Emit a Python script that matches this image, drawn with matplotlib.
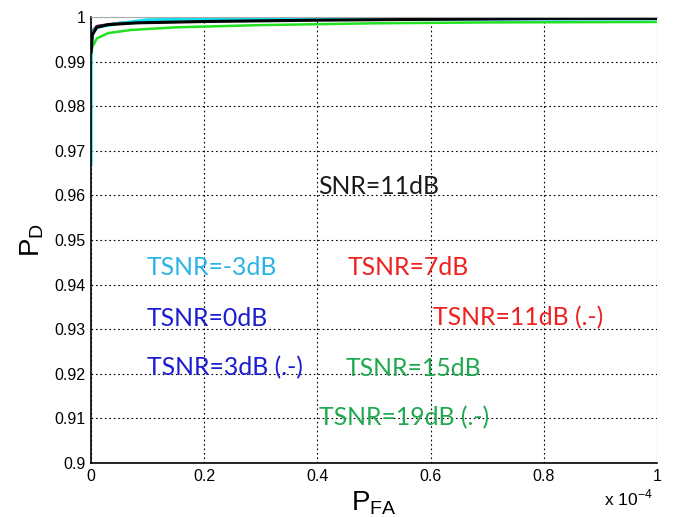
import matplotlib
matplotlib.use("Agg")
import matplotlib.pyplot as plt

# curves, x in units of 1e-4
x_green = [0, 0.002, 0.01, 0.03, 0.07, 0.15, 0.3, 0.5, 0.7, 1.0]
y_green = [0.9915, 0.9932, 0.9952, 0.9964, 0.9971, 0.9977, 0.9982, 0.9986, 0.9988, 0.9989]
x_red = [0, 0.003, 0.01, 0.05, 0.2, 0.3, 0.4, 1.0]
y_red = [0.9930, 0.9970, 0.9980, 0.9987, 0.9992, 0.9997, 0.9997, 0.9997]
x_blue = [0, 0.003, 0.01, 0.05, 0.2, 0.4, 0.6, 1.0]
y_blue = [0.9928, 0.9968, 0.9979, 0.9986, 0.9991, 0.9994, 0.9995, 0.9996]
x_cyan = [0, 0, 0.003, 0.01, 0.05, 0.1, 0.2, 0.27, 0.6, 1.0]
y_cyan = [0.967, 0.9925, 0.9966, 0.9977, 0.9986, 0.9994, 0.9995, 0.9996, 0.9996, 0.9996]
x_black = [0, 0.002, 0.01, 0.03, 0.08, 0.2, 0.4, 0.6, 0.8, 1.0]
y_black = [0.9922, 0.9960, 0.9977, 0.9983, 0.9987, 0.9990, 0.9993, 0.9995, 0.9997, 0.9997]

labels = ["SNR=11dB", "TSNR=-3dB", "TSNR=7dB", "TSNR=0dB", "TSNR=11dB (.-)",
          "TSNR=3dB (.-)", "TSNR=15dB", "TSNR=19dB (.-)"]
label_x = [0.401, 0.099, 0.454, 0.099, 0.604, 0.099, 0.450, 0.403]
label_y = [0.9621, 0.9439, 0.9439, 0.9325, 0.9325, 0.9213, 0.9213, 0.9101]
label_colors = ["#1a1a1a", "#2ab4e6", "#ee2020", "#1c1cd0", "#ee2020",
                "#1c1cd0", "#20a850", "#20a850"]

plt.rcParams["font.family"] = ["Liberation Sans", "DejaVu Sans"]
fig = plt.figure(figsize=(6.75, 5.17), dpi=100)
ax = fig.add_axes([0.135, 0.1044, 0.838, 0.8626])

s = 1e-4
ax.plot([v * s for v in x_green], y_green, color="#22e022", lw=1.8)
ax.plot([v * s for v in x_red], y_red, color="#c02020", lw=1.8)
ax.plot([v * s for v in x_blue], y_blue, color="#2030c0", lw=1.8)
ax.plot([v * s for v in x_cyan], y_cyan, color="#10e0f0", lw=2.2)
ax.plot([v * s for v in x_black], y_black, color="black", lw=2.2)

for t, xx, yy, c in zip(labels, label_x, label_y, label_colors):
    ax.text(xx * s, yy, t, color=c, fontsize=17.8, va="center", ha="left",
            family=["Lato", "DejaVu Sans"])

ax.set_xlim(0, 1e-4)
ax.set_ylim(0.9, 1.0)
ax.set_xticks([0, 0.2e-4, 0.4e-4, 0.6e-4, 0.8e-4, 1e-4])
ax.set_xticklabels(["0", "0.2", "0.4", "0.6", "0.8", "1"])
ax.set_yticks([0.9 + 0.01 * i for i in range(11)])
ax.set_yticklabels(["0.9", "0.91", "0.92", "0.93", "0.94", "0.95", "0.96",
                    "0.97", "0.98", "0.99", "1"])
ax.tick_params(labelsize=11.5, length=0, pad=4)
ax.grid(True, linestyle=(0, (1.5, 2.5)), color="black", lw=0.8)
ax.spines["right"].set_visible(False)
ax.spines["top"].set_color("#aaaaaa")
ax.spines["left"].set_linewidth(1.2)
ax.spines["bottom"].set_linewidth(1.2)
ax.set_axisbelow(True)

ax.set_xlabel(r"P$_{\mathregular{FA}}$", fontsize=20, labelpad=4)
ax.set_ylabel(r"P$_{\mathregular{D}}$", fontsize=20, labelpad=6)
fig.text(0.895, 0.022, r"x 10$^{\mathregular{-4}}$", fontsize=12.5)

fig.savefig("out.png", dpi=100)
